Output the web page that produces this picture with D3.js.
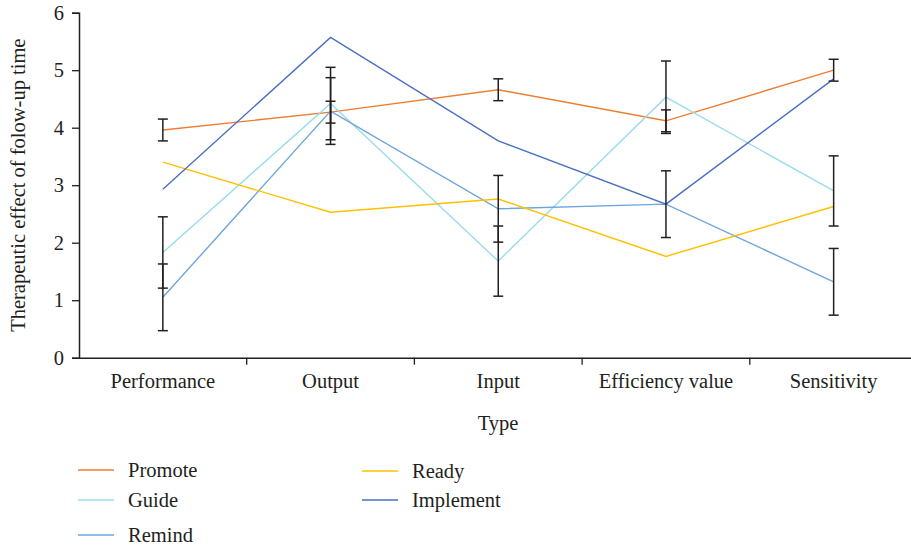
<!DOCTYPE html>
<html>
<head>
<meta charset="utf-8">
<script src="https://cdn.jsdelivr.net/npm/d3@7"></script>
<style>
  body { margin: 0; background: #fff; }
  text { font-family: "Liberation Serif", "DejaVu Serif", serif; fill: #231f20; }
</style>
</head>
<body>
<svg id="chart"></svg>
<script>
var w = 911;
var h = 548;

// data
var categories = ["Performance", "Output", "Input", "Efficiency value", "Sensitivity"];
var seriesNames = ["Promote", "Guide", "Remind", "Ready", "Implement"];
var promote = [3.96, 4.27, 4.66, 4.12, 5.00];
var guide = [1.83, 4.42, 1.68, 4.53, 2.90];
var remind = [1.05, 4.29, 2.59, 2.67, 1.32];
var ready = [3.40, 2.53, 2.76, 1.76, 2.63];
var implement = [2.93, 5.57, 3.77, 2.67, 4.85];
// error bar half-widths
var promoteErr = [0.19, 0.19, 0.19, 0.19, 0.19];
var guideErr = [0.62, 0.63, 0.61, 0.63, 0.61];
var remindErr = [0.58, 0.58, 0.58, 0.58, 0.58];
var yTicks = [0, 1, 2, 3, 4, 5, 6];

var fontSize = "20.5px";

var colors = {
  Promote: "#ed7d31",
  Guide: "#9bdcea",
  Remind: "#6fa6dc",
  Ready: "#ffc000",
  Implement: "#4a6fc0"
};

var series = [
  { name: "Promote", values: promote, err: promoteErr },
  { name: "Guide", values: guide, err: guideErr },
  { name: "Remind", values: remind, err: remindErr },
  { name: "Ready", values: ready, err: null },
  { name: "Implement", values: implement, err: null }
];

var svg = d3.select("#chart")
  .attr("width", w)
  .attr("height", h);

var x = d3.scaleBand()
  .domain(categories)
  .range([79, 917.5]);

var y = d3.scaleLinear()
  .domain([0, 6])
  .range([357.7, 12.7]);

// axes
var yAxis = svg.append("g")
  .attr("transform", "translate(79,0)")
  .call(d3.axisLeft(y).tickValues(yTicks).tickFormat(d3.format("d")).tickSize(7).tickPadding(8));

var xAxis = svg.append("g")
  .attr("transform", "translate(0," + y(0) + ")")
  .call(d3.axisBottom(x).tickSize(0).tickPadding(16));

xAxis.selectAll(".tick").append("line")
  .attr("x1", x.bandwidth() / 2)
  .attr("x2", x.bandwidth() / 2)
  .attr("y1", 0)
  .attr("y2", 7)
  .attr("stroke", "#231f20")
  .attr("stroke-width", 1.3);

svg.selectAll(".domain").attr("stroke", "#231f20").attr("stroke-width", 1.5);
yAxis.selectAll(".tick line").attr("stroke", "#231f20").attr("stroke-width", 1.3);
svg.selectAll(".tick text").style("font-size", fontSize).attr("fill", "#231f20");

// axis titles
svg.append("text")
  .attr("transform", "translate(25," + y(3) + ") rotate(-90)")
  .attr("text-anchor", "middle")
  .style("font-size", fontSize)
  .text("Therapeutic effect of folow-up time");

svg.append("text")
  .attr("x", 498)
  .attr("y", 430)
  .attr("text-anchor", "middle")
  .style("font-size", fontSize)
  .text("Type");

var cx = function(i) { return x(categories[i]) + x.bandwidth() / 2; };

var line = d3.line()
  .x(function(d, i) { return cx(i); })
  .y(function(d) { return y(d); });

svg.selectAll(".series")
  .data(series)
  .enter()
  .append("path")
  .attr("class", "series")
  .attr("d", function(d) { return line(d.values); })
  .attr("fill", "none")
  .attr("stroke", function(d) { return colors[d.name]; })
  .attr("stroke-width", 1.4);

// error bars
var bars = [];
series.forEach(function(s) {
  if (!s.err) return;
  s.values.forEach(function(v, i) {
    bars.push({ i: i, lo: v - s.err[i], hi: v + s.err[i] });
  });
});

var eb = svg.selectAll(".err")
  .data(bars)
  .enter()
  .append("g")
  .attr("class", "err")
  .attr("stroke", "#231f20")
  .attr("stroke-width", 1.5);

eb.append("line")
  .attr("x1", function(d) { return cx(d.i); })
  .attr("x2", function(d) { return cx(d.i); })
  .attr("y1", function(d) { return y(d.lo); })
  .attr("y2", function(d) { return y(d.hi); });

eb.append("line")
  .attr("x1", function(d) { return cx(d.i) - 5; })
  .attr("x2", function(d) { return cx(d.i) + 5; })
  .attr("y1", function(d) { return y(d.lo); })
  .attr("y2", function(d) { return y(d.lo); });

eb.append("line")
  .attr("x1", function(d) { return cx(d.i) - 5; })
  .attr("x2", function(d) { return cx(d.i) + 5; })
  .attr("y1", function(d) { return y(d.hi); })
  .attr("y2", function(d) { return y(d.hi); });

// legend
var legendPos = {
  Promote: [78, 470],
  Guide: [78, 500],
  Remind: [78, 535],
  Ready: [362, 471],
  Implement: [362, 500]
};

var legend = svg.selectAll(".legend")
  .data(seriesNames)
  .enter()
  .append("g")
  .attr("class", "legend")
  .attr("transform", function(d) { return "translate(" + legendPos[d][0] + "," + legendPos[d][1] + ")"; });

legend.append("line")
  .attr("x1", 0)
  .attr("x2", 36)
  .attr("stroke", function(d) { return colors[d]; })
  .attr("stroke-width", 1.5);

legend.append("text")
  .attr("x", 50)
  .attr("dy", "0.33em")
  .style("font-size", fontSize)
  .text(function(d) { return d; });
</script>
</body>
</html>
